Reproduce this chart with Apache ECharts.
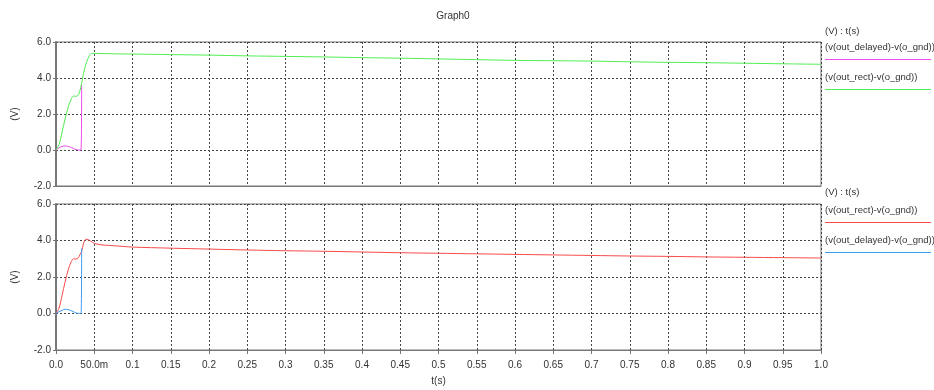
<!DOCTYPE html>
<html>
<head>
<meta charset="utf-8">
<script src="https://cdn.jsdelivr.net/npm/echarts@6/dist/echarts.min.js"></script>
<style>
html,body{margin:0;padding:0;background:#fff;}
#chart{width:934px;height:390px;}
</style>
</head>
<body>
<div id="chart"></div>
<script>
// ---- data ----
var rectTimes = [0, 0.004, 0.008, 0.012, 0.016, 0.02, 0.023, 0.026, 0.029, 0.031, 0.0335, 0.036, 0.039, 0.042, 0.046, 0.05, 0.06, 0.07, 0.08, 0.1, 0.15, 0.2, 0.25, 0.3, 0.35, 0.4, 0.45, 0.5, 0.55, 0.6, 0.65, 0.7, 0.75, 0.8, 0.85, 0.9, 0.95, 1.0];
var rectTop = [0, 0.3, 1.0, 1.75, 2.4, 2.85, 3.0, 2.98, 3.05, 3.25, 3.7, 4.25, 4.75, 5.1, 5.36, 5.37, 5.36, 5.35, 5.34, 5.33, 5.3, 5.27, 5.23, 5.2, 5.17, 5.13, 5.1, 5.06, 5.02, 4.98, 4.96, 4.94, 4.9, 4.87, 4.85, 4.82, 4.79, 4.76];
var rectBottom = [0, 0.3, 1.0, 1.75, 2.4, 2.85, 3.0, 2.98, 3.05, 3.2, 3.4, 3.85, 4.07, 4.05, 3.95, 3.84, 3.76, 3.73, 3.7, 3.64, 3.58, 3.53, 3.48, 3.44, 3.41, 3.37, 3.33, 3.3, 3.27, 3.24, 3.21, 3.18, 3.15, 3.13, 3.1, 3.08, 3.06, 3.04];
var delayedTimes = [0, 0.004, 0.008, 0.012, 0.016, 0.02, 0.024, 0.028, 0.0327, 0.0335];
var delayedTop = [0, 0.12, 0.2, 0.22, 0.2, 0.14, 0.06, 0.01, 0.0, 3.65];
var delayedBottom = [0, 0.1, 0.18, 0.23, 0.21, 0.15, 0.07, 0.01, 0.0, 3.57];
var xTickLabels = ['0.0', '50.0m', '0.1', '0.15', '0.2', '0.25', '0.3', '0.35', '0.4', '0.45', '0.5', '0.55', '0.6', '0.65', '0.7', '0.75', '0.8', '0.85', '0.9', '0.95', '1.0'];
var yTickLabels = ['-2.0', '0.0', '2.0', '4.0', '6.0'];
var nameDelayed = '(v(out_delayed)-v(o_gnd))';
var nameRect = '(v(out_rect)-v(o_gnd))';

function pairs(t, v) { return t.map(function (x, i) { return [x, v[i]]; }); }

var FONT = 'Liberation Sans';
var TXT = '#333';
var colGreen = '#50ee50', colMagenta = '#ee48ee', colRed = '#f84a4a', colBlue = '#3c9cf0';

function xAxisCfg(idx, showLabels) {
  return {
    type: 'value', gridIndex: idx, min: 0, max: 1, interval: 0.05,
    name: showLabels ? 't(s)' : '', nameLocation: 'middle', nameGap: 26,
    nameTextStyle: { fontFamily: FONT, fontSize: 10, color: TXT },
    axisLine: { show: true, onZero: false, lineStyle: { color: '#777', width: 1 } },
    axisTick: { show: showLabels, length: 4, lineStyle: { color: '#777' } },
    axisLabel: {
      show: showLabels, fontFamily: FONT, fontSize: 10, color: TXT, margin: 10,
      formatter: function (v) { return xTickLabels[Math.round(v / 0.05)]; }
    },
    splitLine: { show: true, lineStyle: { type: [2, 2], color: '#444', width: 1 } }
  };
}
function yAxisCfg(idx) {
  return {
    type: 'value', gridIndex: idx, min: -2, max: 6, interval: 2,
    name: '(V)', nameLocation: 'middle', nameGap: 36, nameRotate: 90,
    nameTextStyle: { fontFamily: FONT, fontSize: 10, color: TXT },
    axisLine: { show: true, onZero: false, lineStyle: { color: '#777', width: 2 } },
    axisTick: { show: true, length: 3, lineStyle: { color: '#777' } },
    axisLabel: {
      fontFamily: FONT, fontSize: 10, color: TXT, margin: 5,
      formatter: function (v) { return yTickLabels[Math.round((v + 2) / 2)]; }
    },
    splitLine: { show: true, lineStyle: { type: [2, 2], color: '#444', width: 1 } }
  };
}

function legendText(x, y, text) {
  return { type: 'text', left: x, top: y, style: { text: text, font: '9.5px "' + FONT + '"', fill: TXT } };
}
function legendLine(y, color) {
  return { type: 'line', shape: { x1: 825, y1: y, x2: 931, y2: y }, style: { stroke: color, lineWidth: 1 } };
}

var chart = echarts.init(document.getElementById('chart'), null, { renderer: 'canvas' });
chart.setOption({
  animation: false,
  backgroundColor: '#fff',
  title: {
    text: 'Graph0', left: 448, top: 6, textAlign: 'center',
    textStyle: { fontFamily: FONT, fontSize: 10, fontWeight: 'normal', color: TXT }
  },
  grid: [
    { left: 56, top: 42, width: 765, height: 144, show: true, borderColor: '#777', borderWidth: 1, backgroundColor: 'transparent' },
    { left: 56, top: 204, width: 765, height: 146, show: true, borderColor: '#777', borderWidth: 1, backgroundColor: 'transparent' }
  ],
  xAxis: [xAxisCfg(0, false), xAxisCfg(1, true)],
  yAxis: [yAxisCfg(0), yAxisCfg(1)],
  series: [
    { name: nameDelayed, type: 'line', xAxisIndex: 0, yAxisIndex: 0, data: pairs(delayedTimes, delayedTop), showSymbol: false, smooth: 0.3, lineStyle: { color: colMagenta, width: 1 } },
    { name: nameRect, type: 'line', xAxisIndex: 0, yAxisIndex: 0, data: pairs(rectTimes, rectTop), showSymbol: false, smooth: 0.3, lineStyle: { color: colGreen, width: 1 } },
    { name: nameRect, type: 'line', xAxisIndex: 1, yAxisIndex: 1, data: pairs(rectTimes, rectBottom), showSymbol: false, smooth: 0.3, lineStyle: { color: colRed, width: 1 } },
    { name: nameDelayed, type: 'line', xAxisIndex: 1, yAxisIndex: 1, data: pairs(delayedTimes, delayedBottom), showSymbol: false, smooth: 0.3, lineStyle: { color: colBlue, width: 1 } }
  ],
  graphic: [
    legendText(825, 26, '(V) : t(s)'),
    legendText(825, 42, nameDelayed),
    legendLine(59.5, colMagenta),
    legendText(825, 72, nameRect),
    legendLine(89.5, colGreen),
    legendText(825, 187, '(V) : t(s)'),
    legendText(825, 205, nameRect),
    legendLine(222.5, colRed),
    legendText(825, 235, nameDelayed),
    legendLine(252.5, colBlue)
  ]
});
</script>
</body>
</html>
